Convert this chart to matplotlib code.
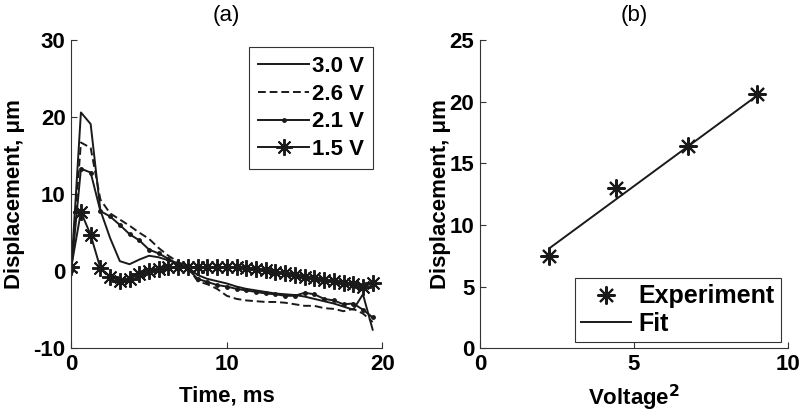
import numpy as np
import matplotlib
matplotlib.use("Agg")
import matplotlib.pyplot as plt

# ---------------- data ----------------
time_ms = [0.0, 0.625, 1.25, 1.875, 2.5, 3.125, 3.75, 4.375, 5.0, 5.625, 6.25, 6.875,
           7.5, 8.125, 8.75, 9.375, 10.0, 10.625, 11.25, 11.875, 12.5, 13.125, 13.75,
           14.375, 15.0, 15.625, 16.25, 16.875, 17.5, 18.125, 18.75, 19.375]

disp_30 = [0.0, 20.6, 19.1, 7.9, 4.3, 1.3, 0.9, 1.5, 2.0, 1.8, 1.4, 1.0, 0.5, -0.5,
           -1.0, -1.3, -1.6, -2.0, -2.3, -2.5, -2.7, -2.9, -3.0, -3.1, -3.3, -3.6,
           -3.9, -4.2, -4.6, -5.0, -3.0, -7.6]
disp_26 = [0.0, 16.7, 16.0, 9.3, 7.5, 6.7, 5.9, 5.0, 4.2, 3.0, 2.0, 1.2, 0.5, -1.3,
           -1.7, -2.3, -3.2, -3.6, -3.8, -3.9, -4.0, -4.0, -4.1, -4.3, -4.5, -4.5,
           -4.8, -4.9, -5.2, -4.9, -5.5, -6.6]
disp_21 = [0.0, 13.3, 12.8, 7.8, 7.1, 6.0, 4.8, 4.0, 2.8, 2.3, 1.6, 0.9, 0.3, -1.0,
           -1.4, -1.8, -2.0, -2.3, -2.5, -2.7, -2.9, -3.0, -3.2, -3.2, -2.8, -3.0,
           -3.6, -3.8, -4.3, -4.2, -5.0, -6.0]
disp_15 = [0.5, 7.7, 4.7, 0.4, -0.7, -1.3, -1.0, -0.4, 0.0, 0.3, 0.5, 0.5, 0.5, 0.5,
           0.5, 0.5, 0.5, 0.5, 0.4, 0.3, 0.1, -0.1, -0.3, -0.5, -0.7, -0.9, -1.1,
           -1.3, -1.5, -1.7, -2.0, -1.6]
series_labels = ["3.0 V", "2.6 V", "2.1 V", "1.5 V"]

voltage_sq = [2.25, 4.41, 6.76, 9.0]
peak_disp = [7.5, 13.0, 16.4, 20.6]
fit_x = [2.25, 9.0]
fit_y = [8.1, 20.5]

# ---------------- style ----------------
fam = ["Liberation Sans", "DejaVu Sans"]
plt.rcParams["font.family"] = fam
plt.rcParams["axes.unicode_minus"] = False
star = (8, 2, 0)
col = "#1a1a1a"

fig = plt.figure(figsize=(8.0, 4.17), dpi=100)
ax1 = fig.add_axes([0.089, 0.165, 0.389, 0.739])
ax2 = fig.add_axes([0.600, 0.165, 0.385, 0.739])

def style_axes(ax):
    for s in ("top", "right"):
        ax.spines[s].set_visible(False)
    for s in ("left", "bottom"):
        ax.spines[s].set_linewidth(0.8)
        ax.spines[s].set_color("#333333")
    ax.tick_params(direction="in", length=4, width=0.8, colors="#333333",
                   labelcolor="black", pad=4)
    for lab in ax.get_xticklabels() + ax.get_yticklabels():
        lab.set_fontweight("bold")
        lab.set_fontsize(16)

# ---------------- panel (a) ----------------
lw = 1.4
ax1.plot(time_ms, disp_30, color=col, lw=lw, ls="-", label=series_labels[0])
ax1.plot(time_ms, disp_26, color=col, lw=lw, ls=(0, (4, 2)), label=series_labels[1])
ax1.plot(time_ms, disp_21, color=col, lw=lw, ls="-", marker="o", markersize=2.5,
         label=series_labels[2])
ax1.plot(time_ms, disp_15, color=col, lw=lw, ls="-", marker=star, markersize=12,
         markeredgewidth=1.4, label=series_labels[3])
ax1.set_xlim(0, 20)
ax1.set_ylim(-10, 30)
ax1.set_xticks([0, 10, 20])
ax1.set_yticks([-10, 0, 10, 20, 30])
style_axes(ax1)
ax1.set_xlabel("Time, ms", fontsize=16, fontweight="bold", labelpad=8)
ax1.set_ylabel("Displacement, \u03bcm", fontsize=16, fontweight="bold", labelpad=6)
ax1.set_title("(a)", fontsize=16, pad=14)
leg1 = ax1.legend(loc="upper right", bbox_to_anchor=(0.971, 0.977), borderaxespad=0,
                  prop={"weight": "bold", "size": 16},
                  handlelength=2.3, handletextpad=0.15, labelspacing=0.3,
                  borderpad=0.4, fancybox=False, framealpha=1, edgecolor="#333333")
leg1.get_frame().set_linewidth(0.8)

# ---------------- panel (b) ----------------
ax2.plot(voltage_sq, peak_disp, ls="none", marker=star, markersize=13,
         markeredgewidth=1.5, color=col, label="Experiment")
ax2.plot(fit_x, fit_y, color=col, lw=1.4, label="Fit")
ax2.set_xlim(0, 10)
ax2.set_ylim(0, 25)
ax2.set_xticks([0, 5, 10])
ax2.set_yticks([0, 5, 10, 15, 20, 25])
style_axes(ax2)
ax2.set_xlabel("Voltage$^\\mathbf{2}$", fontsize=16, fontweight="bold", labelpad=6)
ax2.set_ylabel("Displacement, \u03bcm", fontsize=16, fontweight="bold", labelpad=-1)
ax2.set_title("(b)", fontsize=16, pad=14)
leg2 = ax2.legend(loc="lower right", bbox_to_anchor=(0.977, 0.019), borderaxespad=0,
                  prop={"weight": "bold", "size": 18},
                  handlelength=2.0, handletextpad=0.3, labelspacing=0.15,
                  borderpad=0.25, fancybox=False, framealpha=1, edgecolor="#333333")
leg2.get_frame().set_linewidth(0.8)

fig.savefig("out.png", dpi=100)
